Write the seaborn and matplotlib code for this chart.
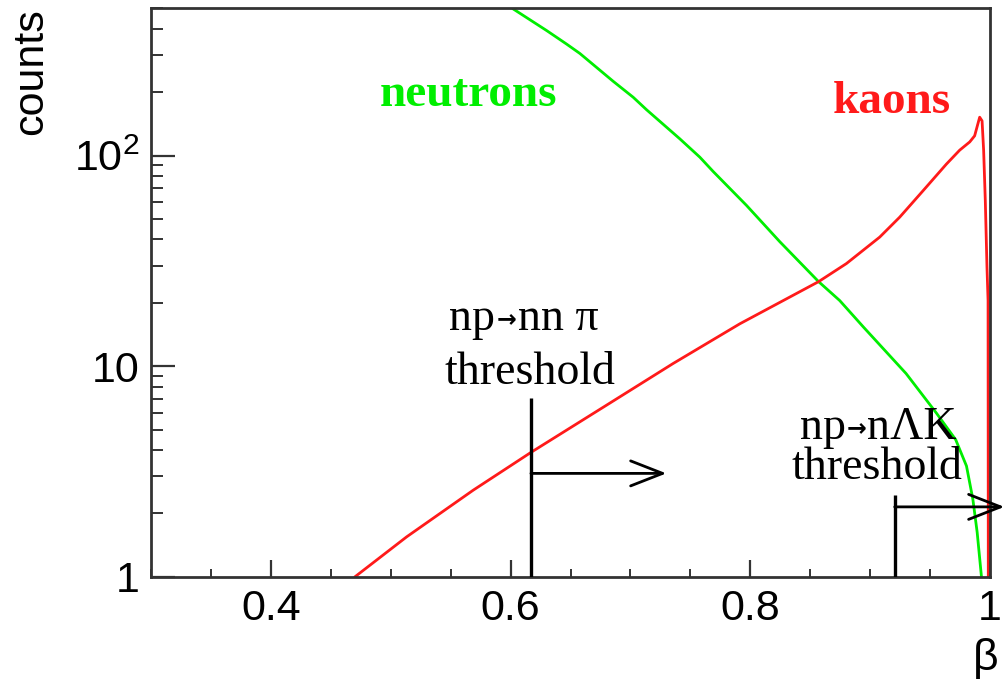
import numpy as np
import pandas as pd
import matplotlib
matplotlib.use("Agg")
import matplotlib.pyplot as plt
import matplotlib.ticker as mticker
from matplotlib.transforms import offset_copy
import seaborn as sns

# ---------------- data ----------------
kaon_beta = [0.470, 0.5133, 0.5688, 0.617, 0.680, 0.7356, 0.7913, 0.857,
             0.8802, 0.908, 0.9247, 0.9441, 0.9636, 0.9747, 0.9831, 0.9872,
             0.9914, 0.9934, 0.9947, 0.9961, 0.9975, 0.9984, 0.9986]
kaon_counts = [1.0, 1.55, 2.58, 3.90, 6.53, 10.3, 15.9, 25.2,
               30.7, 41.0, 51.0, 68.0, 91.0, 106.0, 116.0, 124.0,
               152.0, 146.0, 106.0, 61.0, 29.5, 20.5, 1.0]

neutron_beta = [0.598, 0.6022, 0.630, 0.6467, 0.6578, 0.6856, 0.7023, 0.7134,
                0.7412, 0.7579, 0.769, 0.7968, 0.8135, 0.8246, 0.857, 0.8746,
                0.8946, 0.930, 0.9554, 0.9714, 0.9804, 0.9857, 0.9893, 0.9929]
neutron_counts = [520.0, 496.0, 392.0, 338.0, 305.0, 225.0, 189.0, 165.0,
                  120.0, 98.2, 84.0, 58.0, 45.7, 39.0, 25.2, 20.5,
                  15.3, 9.23, 5.98, 4.48, 3.36, 2.34, 1.63, 1.0]

threshold_beta = [0.617, 0.9205]      # reaction thresholds
threshold_top = [7.1, 2.45]           # top of the marker line (counts)
arrow_level = [3.1, 2.15]             # height of the arrow (counts)
arrow_end = [0.730, 1.012]            # arrow tip (beta)
reaction_initial = ["np", "np"]
reaction_final = ["nn π", "nΛK"]

x_major = [0.4, 0.6, 0.8, 1.0]
x_major_labels = ["0.4", "0.6", "0.8", "1"]
y_major = [1, 10, 100]
y_major_labels = ["1", "10", r"$\mathregular{10^{2}}$"]

GREEN = "#00ee00"
RED = "#ff1a1a"

# ---------------- style ----------------
sns.set_theme(style="white")
plt.rcParams["font.family"] = ["Liberation Sans", "DejaVu Sans"]
plt.rcParams["mathtext.fontset"] = "custom"
plt.rcParams["mathtext.rm"] = "Liberation Sans"
plt.rcParams["mathtext.it"] = "Liberation Sans:italic"
for k in ["text.color", "axes.labelcolor", "xtick.color", "ytick.color"]:
    plt.rcParams[k] = "black"
SERIF = ["Liberation Serif", "DejaVu Serif"]

fig = plt.figure(figsize=(10.07, 6.86), dpi=100)
ax = fig.add_axes([0.150, 0.159, 0.8331, 0.829])
ax.set_facecolor("white")

kaons = pd.DataFrame({"beta": kaon_beta, "counts": kaon_counts})
neutrons = pd.DataFrame({"beta": neutron_beta, "counts": neutron_counts})

sns.lineplot(data=neutrons, x="beta", y="counts", color=GREEN, lw=2.0,
             sort=False, estimator=None, ax=ax)
sns.lineplot(data=kaons, x="beta", y="counts", color=RED, lw=2.0,
             sort=False, estimator=None, ax=ax)

ax.set_yscale("log")
ax.set_xlim(0.3, 1.0)
ax.set_ylim(1, 500)

# ticks
ax.xaxis.set_major_locator(mticker.FixedLocator(x_major))
ax.xaxis.set_major_formatter(mticker.FixedFormatter(x_major_labels))
ax.xaxis.set_minor_locator(mticker.MultipleLocator(0.05))
ax.yaxis.set_major_locator(mticker.FixedLocator(y_major))
ax.yaxis.set_major_formatter(mticker.FixedFormatter(y_major_labels))
ax.yaxis.set_minor_locator(mticker.LogLocator(base=10, subs=np.arange(2, 10)))
ax.yaxis.set_minor_formatter(mticker.NullFormatter())

ax.tick_params(axis="x", which="major", direction="in", length=12, width=1.6,
               labelsize=31, pad=9, color="#333333", bottom=True, top=False)
ax.tick_params(axis="x", which="minor", direction="in", length=6, width=1.4,
               color="#333333", bottom=True, top=False)
ax.tick_params(axis="y", which="major", direction="in", length=17, width=1.6,
               labelsize=31, pad=8, color="#333333", left=True, right=False)
ax.tick_params(axis="y", which="minor", direction="in", length=8.5, width=1.4,
               color="#333333", left=True, right=False)

for s in ax.spines.values():
    s.set_visible(True)
    s.set_color("#333333")
    s.set_linewidth(2.0)

# axis titles (ROOT style, at the ends)
ax.set_ylabel("counts", fontsize=31, loc="top")
ax.yaxis.set_label_coords(-0.119, 1.0)
ax.set_xlabel("β", fontsize=32, loc="right")
ax.xaxis.set_label_coords(1.010, -0.108)

# curve labels
ax.text(0.5652, 172, "neutrons", color=GREEN, fontsize=34,
        fontweight="bold", family=SERIF, ha="center", va="baseline")
ax.text(0.918, 160, "kaons", color=RED, fontsize=34,
        fontweight="bold", family=SERIF, ha="center", va="baseline")

# threshold markers
ax.vlines(threshold_beta, 1, threshold_top, color="black", lw=2.4, zorder=3)
for b, yl, xe in zip(threshold_beta, arrow_level, arrow_end):
    ax.annotate("", xy=(xe, yl), xytext=(b, yl), annotation_clip=False,
                arrowprops=dict(arrowstyle="->,head_length=1.15,head_width=0.45",
                                lw=2.0, color="black", mutation_scale=20,
                                shrinkA=0, shrinkB=0))

# threshold texts: reaction line = "np" + small arrow + final state
react_anchor = [(0.5967, 14.9), (0.8888, 4.52)]   # arrow centre, baseline
react_gap = [(12, 11), (11, 10)]                  # px left / right of arrow
for (xa, yb), (gl, gr), ini, fin in zip(react_anchor, react_gap,
                                        reaction_initial, reaction_final):
    ax.text(xa, yb, ini, fontsize=33, family=SERIF, ha="right", va="baseline",
            transform=offset_copy(ax.transData, fig=fig, x=-gl, y=0, units="dots"))
    ax.text(xa, yb, fin, fontsize=33, family=SERIF, ha="left", va="baseline",
            transform=offset_copy(ax.transData, fig=fig, x=gr, y=0, units="dots"))
    ax.text(xa, yb, "→", fontsize=17, family=["DejaVu Sans"], ha="center",
            va="center", fontweight="bold",
            transform=offset_copy(ax.transData, fig=fig, x=0, y=11, units="dots"))

ax.text(0.6164, 8.22, "threshold", fontsize=33, family=SERIF,
        ha="center", va="baseline")
ax.text(0.9055, 2.93, "threshold", fontsize=33, family=SERIF,
        ha="center", va="baseline")

fig.savefig("out.png", dpi=100, facecolor="white")
